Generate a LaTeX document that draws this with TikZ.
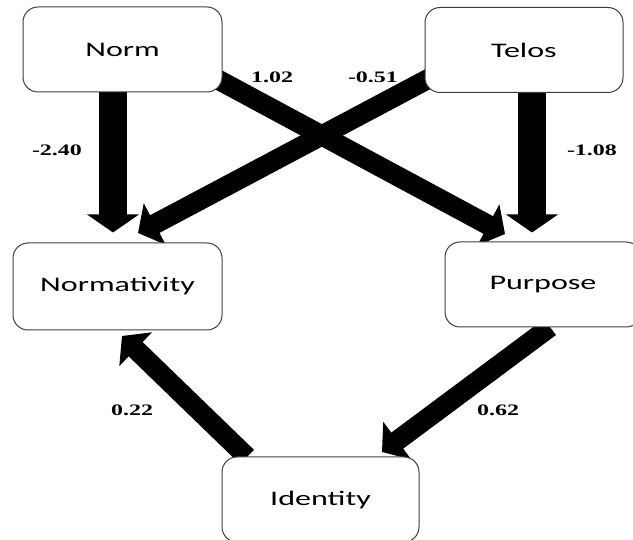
\documentclass[tikz,border=0pt]{standalone}
\usepackage{fontspec}
\usetikzlibrary{arrows.meta,calc}
\newfontfamily\boxfont[FakeStretch=1.55]{Carlito}
\newfontfamily\numfont[FakeStretch=1.5]{Liberation Serif}
\pgfdeclarelayer{bg}
\pgfsetlayers{bg,main}
\tikzset{
  box/.style={draw=black!75, line width=1pt, fill=white, rounded corners=15pt,
    inner sep=0pt, minimum height=85pt,
    font=\boxfont\fontsize{20.7}{24}\selectfont},
  coef/.style={inner sep=0pt, font=\numfont\bfseries\fontsize{16}{18}\selectfont},
  thickarr/.style={line width=28pt, -{Triangle[length=18pt,width=51pt]}},
  diagarr/.style={line width=20pt, -{Triangle[length=19pt,width=46pt]}}
}
\begin{document}
\begin{tikzpicture}[x=1pt,y=-1pt]
\useasboundingbox (0,0) rectangle (633,540);
\node[box, minimum width=199pt] (norm) at (122.5,49.5) {Norm};
\node[box, minimum width=198pt] (telos) at (524,50) {Telos};
\node[box, minimum width=209pt, minimum height=87pt] (normativity) at (117.5,286.5) {Normativity};
\node[box, minimum width=196pt] (purpose) at (543,284.5) {Purpose};
\node[box, minimum width=197pt] (identity) at (320.5,499.5) {Identity};
\begin{pgfonlayer}{bg}
\fill[white] (0,0) rectangle (633,540);
\draw[thickarr] ([xshift=-9.5pt]norm.south) -- ([xshift=-9.5pt]norm.south |- {$(normativity.north)+(0,-10)$});
\draw[thickarr] ([xshift=8pt]telos.south) -- ([xshift=8pt]telos.south |- {$(purpose.north)+(0,-9)$});
\draw[diagarr] ($(norm.center)+(92.5,28.5)$) -- ($(purpose.center)+(-38,-50.5)$);
\draw[diagarr] ($(telos.center)+(-94,28)$) -- ($(normativity.center)+(20.5,-53.5)$);
\draw[diagarr] ($(purpose.center)+(7,42.5)$) -- ($(identity.center)+(61.5,-47.5)$);
\draw[diagarr] ($(identity.center)+(-73.5,-42.5)$) -- ($(normativity.center)+(4.5,49.5)$);
\end{pgfonlayer}
\node[coef] (c1) at (57,150) {-2.40};
\node[coef] (c2) at (272,77) {1.02};
\node[coef] (c3) at (373,77) {-0.51};
\node[coef] (c4) at (592,150) {-1.08};
\node[coef] (c5) at (132,410) {0.22};
\node[coef] (c6) at (498,410) {0.62};
\end{tikzpicture}
\end{document}
